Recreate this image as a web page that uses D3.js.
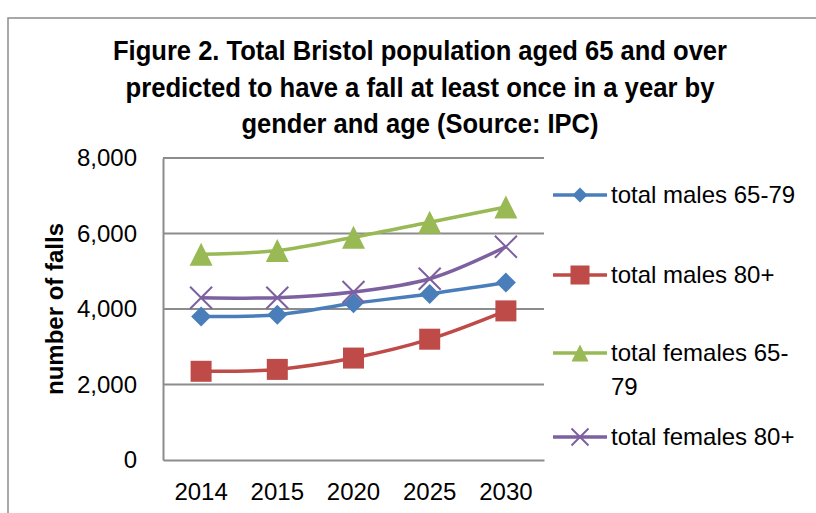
<!DOCTYPE html>
<html>
<head>
<meta charset="utf-8">
<script src="https://cdn.jsdelivr.net/npm/d3@7"></script>
<style>
  html, body { margin: 0; padding: 0; background: #fff; }
  svg { display: block; font-family: "Liberation Sans", Arial, sans-serif; }
</style>
</head>
<body>
<div id="chart"></div>
<script>
const years = ["2014", "2015", "2020", "2025", "2030"];
const malesYoung = [3800, 3850, 4150, 4400, 4700];
const malesOld = [2350, 2400, 2700, 3200, 3950];
const femalesYoung = [5450, 5550, 5900, 6300, 6700];
const femalesOld = [4300, 4300, 4450, 4800, 5650];
const yTicks = [0, 2000, 4000, 6000, 8000];
const titleLines = [
  "Figure 2. Total Bristol population aged 65 and over",
  "predicted to have a fall at least once in a year by",
  "gender and age (Source: IPC)"
];

const series = [
  { name: ["total males 65-79"], values: malesYoung, color: "#4a7ebb", marker: "diamond" },
  { name: ["total males 80+"], values: malesOld, color: "#be4b48", marker: "square" },
  { name: ["total females 65-", "79"], values: femalesYoung, color: "#98b954", marker: "triangle" },
  { name: ["total females 80+"], values: femalesOld, color: "#7d60a0", marker: "cross" }
];

const width = 816, height = 513;
const plot = { left: 163, right: 544, top: 158, bottom: 460 };

const svg = d3.select("#chart").append("svg")
  .attr("width", width).attr("height", height);

// chart border
svg.append("rect")
  .attr("x", 8).attr("y", 18)
  .attr("width", 830).attr("height", 520)
  .attr("fill", "none").attr("stroke", "#8c8c8c").attr("stroke-width", 1.5);

// title (widths)
const titleWidths = [614, 589, 357];
svg.append("g").selectAll("text")
  .data(titleLines)
  .enter().append("text")
  .attr("x", 420)
  .attr("y", (d, i) => 60 + i * 36.5)
  .attr("text-anchor", "middle")
  .attr("textLength", (d, i) => titleWidths[i])
  .attr("lengthAdjust", "spacingAndGlyphs")
  .style("font-size", "27px")
  .style("font-weight", "bold")
  .text(d => d);

const x = d3.scaleBand().domain(years).range([plot.left, plot.right]);
const y = d3.scaleLinear().domain([0, 8000]).range([plot.bottom, plot.top]);

// gridlines
svg.append("g").selectAll("line")
  .data(yTicks.filter(d => d > 0))
  .enter().append("line")
  .attr("x1", plot.left).attr("x2", plot.right)
  .attr("y1", d => y(d)).attr("y2", d => y(d))
  .attr("stroke", "#8c8c8c").attr("stroke-width", 2);

// y axis
const yAxis = svg.append("g")
  .attr("transform", `translate(${plot.left},0)`)
  .call(d3.axisLeft(y).tickValues(yTicks).tickSize(0).tickPadding(26).tickFormat(d3.format(",")));
yAxis.select(".domain").attr("stroke", "#8c8c8c").attr("stroke-width", 2);
yAxis.selectAll("text").style("font-size", "24px").attr("fill", "#000")
  .style("font-family", "\"Liberation Sans\", sans-serif");

// x axis
const xAxis = svg.append("g")
  .attr("transform", `translate(0,${plot.bottom})`)
  .call(d3.axisBottom(x).tickSize(0).tickPadding(23));
xAxis.select(".domain").attr("stroke", "#8c8c8c").attr("stroke-width", 2);
xAxis.selectAll("text").style("font-size", "24px").attr("fill", "#000")
  .style("font-family", "\"Liberation Sans\", sans-serif");

// y axis title
svg.append("text")
  .attr("transform", "translate(63,309) rotate(-90)")
  .attr("text-anchor", "middle")
  .style("font-size", "24px")
  .style("font-weight", "bold")
  .text("number of falls");

const line = d3.line()
  .x((d, i) => x(years[i]) + x.bandwidth() / 2)
  .y(d => y(d))
  .curve(d3.curveCatmullRom.alpha(0.5));

function drawMarker(g, type, color, s) {
  if (type === "diamond") {
    g.append("path").attr("d", `M0,${-s / 2}L${s / 2},0L0,${s / 2}L${-s / 2},0Z`).attr("fill", color);
  } else if (type === "square") {
    g.append("rect").attr("x", -s / 2).attr("y", -s / 2).attr("width", s).attr("height", s).attr("fill", color);
  } else if (type === "triangle") {
    g.append("path").attr("d", `M0,${-s / 2}L${s / 2},${s / 2}L${-s / 2},${s / 2}Z`).attr("fill", color);
  } else {
    const h = s / 2;
    g.append("path").attr("d", `M${-h},${-h}L${h},${h}M${-h},${h}L${h},${-h}`)
      .attr("stroke", color).attr("stroke-width", 2).attr("fill", "none");
  }
}

const markerSize = { diamond: 20, square: 21, triangle: 23, cross: 22 };

series.forEach(s => {
  svg.append("path")
    .datum(s.values)
    .attr("d", line)
    .attr("fill", "none")
    .attr("stroke", s.color)
    .attr("stroke-width", 3.5);

  s.values.forEach((v, i) => {
    const g = svg.append("g")
      .attr("transform", `translate(${x(years[i]) + x.bandwidth() / 2},${y(v)})`);
    drawMarker(g, s.marker, s.color, markerSize[s.marker]);
  });
});

// legend
const legendY = [195, 275, 353, 437];
const legend = svg.append("g");
series.forEach((s, i) => {
  const row = legend.append("g").attr("transform", `translate(553,${legendY[i]})`);
  row.append("line")
    .attr("x1", 0).attr("x2", 54)
    .attr("stroke", s.color).attr("stroke-width", 3.5);
  const m = row.append("g").attr("transform", "translate(27,0)");
  drawMarker(m, s.marker, s.color, { diamond: 15, square: 19, triangle: 17, cross: 17 }[s.marker]);
  const t = row.append("text")
    .attr("x", 58).attr("y", 8)
    .style("font-size", "24px");
  s.name.forEach((n, k) => {
    t.append("tspan").attr("x", 58).attr("dy", k === 0 ? 0 : 34).text(n);
  });
});
</script>
</body>
</html>
